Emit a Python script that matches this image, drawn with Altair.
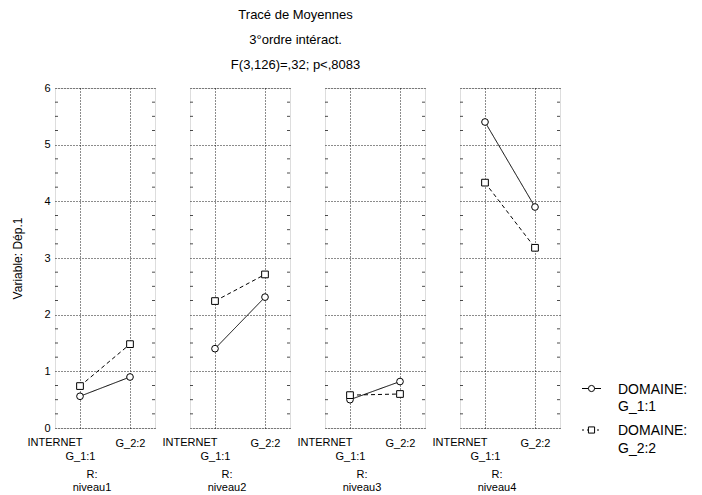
import altair as alt
import pandas as pd

FONT = "Liberation Sans"

# ---- data ----
niveaux = ["niveau1", "niveau2", "niveau3", "niveau4"]
internet_levels = ["G_1:1", "G_2:2"]
domaine_levels = ["G_1:1", "G_2:2"]
# mean of Dép.1 for DOMAINE G_1:1, per niveau, at INTERNET G_1:1 / G_2:2
dom1_means = [[0.56, 0.90], [1.40, 2.31], [0.50, 0.82], [5.40, 3.90]]
# mean of Dép.1 for DOMAINE G_2:2, per niveau, at INTERNET G_1:1 / G_2:2
dom2_means = [[0.74, 1.48], [2.24, 2.71], [0.58, 0.60], [4.33, 3.18]]
y_ticks = [0, 1, 2, 3, 4, 5, 6]
minor_ticks = [0.25, 0.5, 0.75, 1.25, 1.5, 1.75, 2.25, 2.5, 2.75, 3.25, 3.5, 3.75,
               4.25, 4.5, 4.75, 5.25, 5.5, 5.75]

title_lines = ["Tracé de Moyennes", "3°ordre intéract.", "F(3,126)=,32; p<,8083"]
legend_labels = ["DOMAINE:\nG_1:1", "DOMAINE:\nG_2:2"]
legend_shapes = ["circle", "square"]
legend_dashes = [[1, 0], [2, 3]]

PANEL_W, PANEL_H = 100, 340


def make_legend_layers():
    layers = []
    row_y = [300.5, 342]          # vertical centre of each legend row (pixels in panel 4)
    for k, dom in enumerate(domaine_levels):
        ldf = pd.DataFrame({"domaine": [dom], "label": [legend_labels[k]]})
        yk = row_y[k]
        layers.append(alt.Chart(ldf).mark_rule(color="black", strokeWidth=1,
                                               strokeDash=legend_dashes[k]).encode(
            x=alt.value(122), x2=alt.value(141), y=alt.value(yk)))
        layers.append(alt.Chart(ldf).mark_point(shape=legend_shapes[k], filled=True, fill="white",
                                                stroke="black", strokeWidth=1, size=38,
                                                opacity=1).encode(
            x=alt.value(131.5), y=alt.value(yk)))
        layers.append(alt.Chart(ldf).mark_text(font=FONT, fontSize=14, align="left",
                                               baseline="top", lineBreak="\n", lineHeight=17.5,
                                               color="black").encode(
            x=alt.value(158), y=alt.value(yk - 6), text="label:N"))
    return layers


def make_panel(i, niv):
    rows = []
    for dom, means in zip(domaine_levels, [dom1_means, dom2_means]):
        for j, inter in enumerate(internet_levels):
            rows.append({"domaine": dom, "internet": inter, "value": means[i][j]})
    d = pd.DataFrame(rows)
    first = i == 0

    x_enc = alt.X(
        "internet:N",
        scale=alt.Scale(type="point", padding=0.5, domain=internet_levels),
        axis=alt.Axis(
            title=None, domain=False, ticks=False, grid=True, gridDash=[1, 2],
            gridColor="black", gridOpacity=0.9, labelAngle=0, labelFontSize=11,
            labelFont=FONT, labelColor="black", labelPadding=9, labelLineHeight=13,
            labelExpr="datum.value == 'G_1:1' ? ['', datum.value] : datum.value",
        ),
    )
    y_axis_kw = dict(
        values=y_ticks, domain=False, ticks=False, grid=True, gridDash=[1, 2],
        gridColor="black", gridOpacity=0.9,
    )
    if first:
        y_axis_kw.update(
            title="Variable: Dép.1", titleFont=FONT, titleFontSize=12,
            titleFontWeight="normal", titleColor="black", titlePadding=19,
            labelFontSize=11, labelFont=FONT, labelColor="black", labelPadding=5,
            format="d",
        )
    else:
        y_axis_kw.update(title=None, labels=False)
    y_enc = alt.Y("value:Q", scale=alt.Scale(domain=[0, 6], nice=False, zero=True),
                  axis=alt.Axis(**y_axis_kw))

    base = alt.Chart(d)
    lines = base.mark_line(color="black", strokeWidth=1).encode(
        x=x_enc, y=y_enc, detail="domaine:N",
        strokeDash=alt.StrokeDash("domaine:N",
                                  scale=alt.Scale(domain=domaine_levels, range=[[1, 0], [4, 3]]),
                                  legend=None),
    )
    circles = alt.Chart(d[d.domaine == "G_1:1"]).mark_point(
        shape="circle", filled=True, fill="white", stroke="black", strokeWidth=1,
        size=45, opacity=1).encode(x="internet:N", y="value:Q")
    squares = alt.Chart(d[d.domaine == "G_2:2"]).mark_point(
        shape="square", filled=True, fill="white", stroke="black", strokeWidth=1,
        size=45, opacity=1).encode(x="internet:N", y="value:Q")

    tdf = pd.DataFrame({"t": minor_ticks})
    ticks_l = alt.Chart(tdf).mark_tick(color="black", size=3, thickness=1).encode(
        y="t:Q", x=alt.value(1.5))
    ticks_r = alt.Chart(tdf).mark_tick(color="black", size=3, thickness=1).encode(
        y="t:Q", x=alt.value(PANEL_W - 1.5))

    ldf = pd.DataFrame({"inter": ["INTERNET"], "r": ["R:\n" + niv]})
    internet_txt = alt.Chart(ldf).mark_text(
        font=FONT, fontSize=11, baseline="top", align="center", color="black").encode(
        x=alt.value(0), y=alt.value(PANEL_H + 9), text="inter:N")
    r_txt = alt.Chart(ldf).mark_text(
        font=FONT, fontSize=11, baseline="top", align="center", color="black",
        lineBreak="\n", lineHeight=13).encode(
        x=alt.value(37), y=alt.value(PANEL_H + 41), text="r:N")

    layers = [lines, ticks_l, ticks_r, circles, squares, internet_txt, r_txt]
    if i == len(niveaux) - 1:
        layers += make_legend_layers()
    return alt.layer(*layers).properties(width=PANEL_W, height=PANEL_H)


panels = [make_panel(i, niv) for i, niv in enumerate(niveaux)]

chart = alt.hconcat(*panels, spacing=35, bounds="flush").properties(
    title=alt.TitleParams(text=title_lines, font=FONT, fontSize=13, fontWeight="normal",
                          color="black", lineHeight=25, anchor="middle", dx=-54, offset=10),
    padding={"left": 3, "top": 0, "right": 5, "bottom": 0},
).configure_view(stroke="black", strokeWidth=1).configure(font=FONT)

chart.save("out.html", embed_options={"renderer": "svg", "actions": False})
